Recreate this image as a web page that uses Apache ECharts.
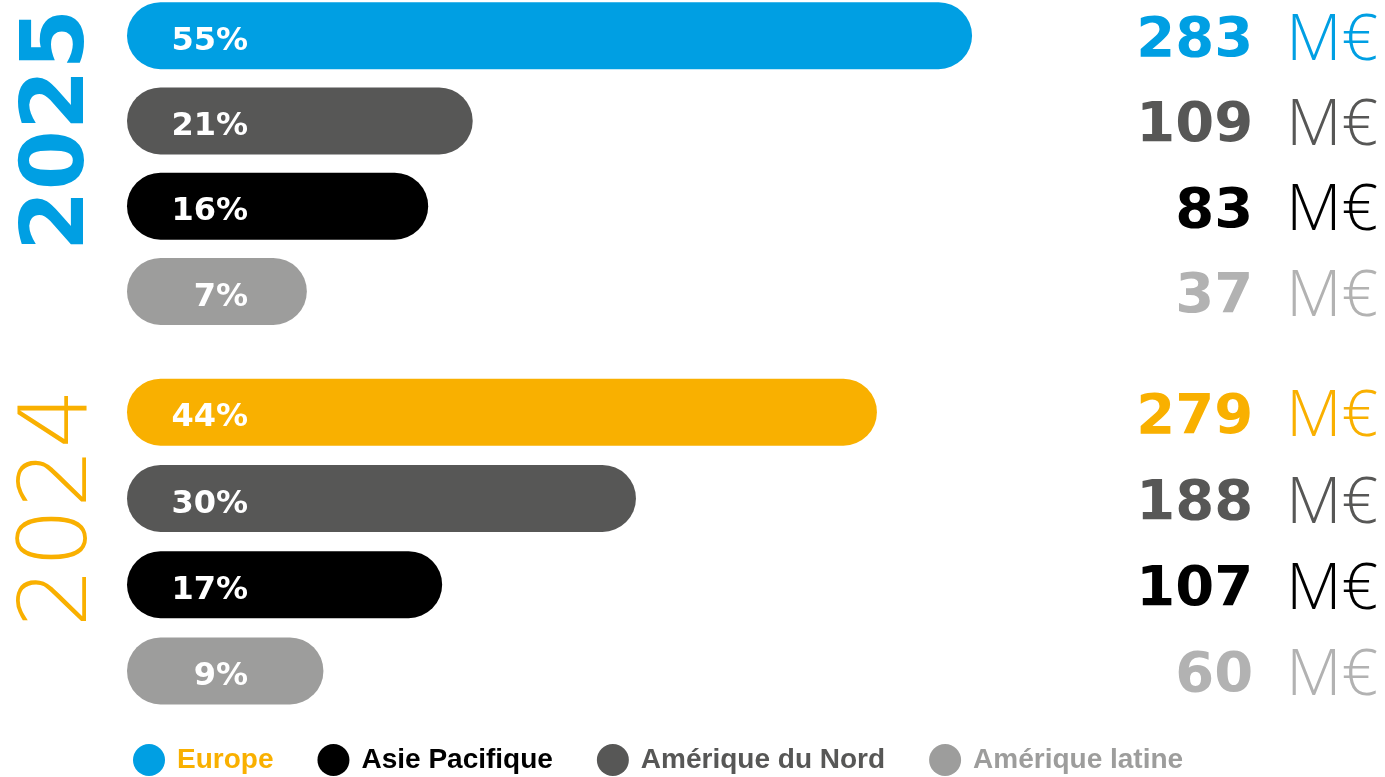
<!DOCTYPE html>
<html>
<head>
<meta charset="utf-8">
<script src="https://cdn.jsdelivr.net/npm/echarts@6/dist/echarts.min.js"></script>
<style>
  html, body { margin: 0; padding: 0; background: #fff; }
  #main { width: 1385px; height: 777px; }
</style>
</head>
<body>
<div id="main"></div>
<script>
// rows, top to bottom, same order in both years
var rows = ['Europe', 'Amérique du Nord', 'Asie Pacifique', 'Amérique latine'];
var legendOrder = ['Europe', 'Asie Pacifique', 'Amérique du Nord', 'Amérique latine'];
var years = ['2025', '2024'];

var share2025 = [55, 21, 16, 7];
var share2024 = [44, 30, 17, 9];
var revenue2025 = [283, 109, 83, 37];
var revenue2024 = [279, 188, 107, 60];
// bar lengths as drawn in the infographic (% of full track), not proportional to the shares
var barLen2025 = [96.8, 39.6, 34.5, 20.6];
var barLen2024 = [85.9, 58.3, 36.1, 22.5];

var barColors = ['#009FE3', '#575756', '#000000', '#9D9D9C'];
var yearColors = ['#009FE3', '#F9B000'];
var textColors = ['#575756', '#000000', '#B2B2B2'];

var shares = [share2025, share2024];
var revenues = [revenue2025, revenue2024];
var barLens = [barLen2025, barLen2024];

var font = "'DejaVu Sans', sans-serif";
var light = "'Open Sans', sans-serif";

// rich styles for right-hand values: number bold, unit light
function richFor(g) {
  var rich = {};
  for (var i = 0; i < 4; i++) {
    var c = i === 0 ? yearColors[g] : textColors[i - 1];
    rich['n' + i] = { fontFamily: font, fontWeight: 'bold', fontSize: 56, color: c };
    rich['u' + i] = { fontFamily: light, fontWeight: 300, fontSize: 64, color: c, padding: [0, 0, 0, 33] };
  }
  return rich;
}

var myChart = echarts.init(document.getElementById('main'));

var grids = [
  { left: 127, width: 873, top: -7, height: 341, outerBoundsMode: 'none' },
  { left: 127, width: 873, top: 369, height: 345, outerBoundsMode: 'none' }
];

var xAxes = [], yAxes = [], series = [];
years.forEach(function (yr, g) {
  xAxes.push({ gridIndex: g, type: 'value', min: 0, max: 100, show: false });
  // left axis: only carries the vertical year
  yAxes.push({
    gridIndex: g, type: 'category', data: rows, inverse: true, position: 'left',
    axisLine: { show: false }, axisTick: { show: false }, axisLabel: { show: false },
    name: yr, nameLocation: 'middle', nameRotate: 90, nameGap: g === 0 ? 23 : 18,
    nameTextStyle: {
      fontFamily: font, fontSize: g === 0 ? 87 : 94, fontWeight: g === 0 ? 'bold' : 200,
      color: yearColors[g], padding: [0, 0, 0, 67]
    }
  });
  // right axis: the M€ values
  yAxes.push({
    gridIndex: g, type: 'category', data: rows, inverse: true, position: 'right',
    axisLine: { show: false }, axisTick: { show: false },
    axisLabel: {
      margin: 378, align: 'right', padding: [12, 0, 0, 0],
      formatter: function (v, i) {
        return '{n' + i + '|' + revenues[g][i] + '}{u' + i + '|M€}';
      },
      rich: richFor(g)
    }
  });
  rows.forEach(function (name, r) {
    series.push({
      name: name,
      type: 'bar',
      xAxisIndex: g,
      yAxisIndex: g * 2,
      stack: 'y' + g,
      barWidth: 67,
      itemStyle: { color: barColors[r], borderRadius: 34 },
      label: {
        show: true, position: [121, '50%'], offset: [0, 6], align: 'right', verticalAlign: 'middle',
        color: '#fff', fontFamily: font, fontWeight: 'bold', fontSize: 32,
        formatter: function () { return shares[g][r] + '%'; }
      },
      data: rows.map(function (_, i) {
        if (i !== r) return '-';
        var d = { value: barLens[g][r] };
        if (r === 0) d.itemStyle = { color: yearColors[g] };
        return d;
      })
    });
  });
});

var option = {
  animation: false,
  grid: grids,
  xAxis: xAxes,
  yAxis: yAxes,
  legend: {
    left: 128, top: 739,
    icon: 'circle', itemWidth: 32, itemHeight: 32, itemGap: 44,
    selectedMode: false,
    textStyle: {
      fontFamily: "'Liberation Sans Narrow', sans-serif", fontWeight: 'bold', fontSize: 28,
      padding: [0, 0, 0, 7]
    },
    data: legendOrder.map(function (n) {
      var c = { 'Europe': '#F9B000', 'Asie Pacifique': '#000000',
                'Amérique du Nord': '#575756', 'Amérique latine': '#9D9D9C' }[n];
      return { name: n, textStyle: { color: c } };
    })
  },
  series: series
};
myChart.setOption(option);
</script>
</body>
</html>
